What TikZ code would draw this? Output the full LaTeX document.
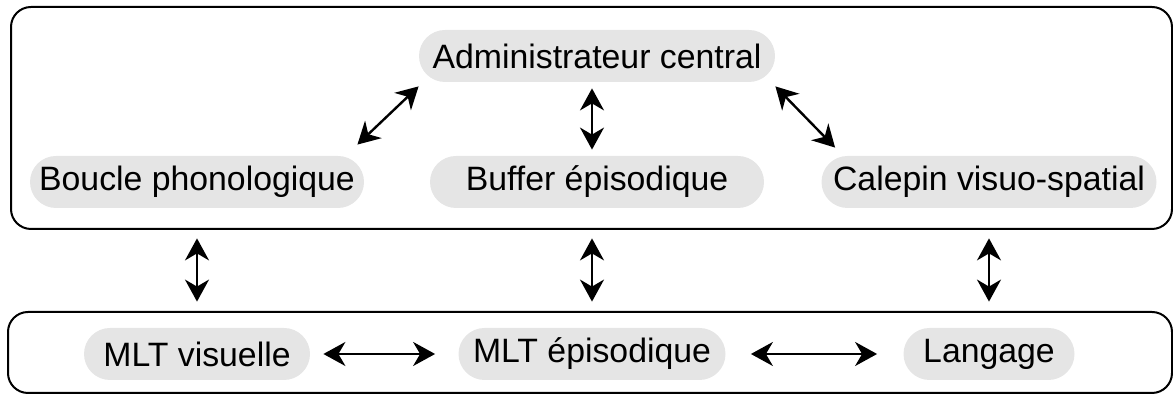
\documentclass[tikz,border=0pt]{standalone}
\usepackage{fontspec}
\setmainfont{Liberation Sans}
\usetikzlibrary{arrows.meta}
\definecolor{lightgrey}{rgb}{0.9,0.9,0.9}

\begin{document}
\begin{tikzpicture}[x=0.5pt,y=0.5pt,
	module/.style={fill=lightgrey,rounded corners=13pt,minimum height=26pt,inner xsep=0pt,
		font=\fontsize{16.9pt}{20pt}\selectfont},
	biarrow/.style={line width=1.2pt,
		{Stealth[length=11pt,width=12pt,inset=3.5pt]}-{Stealth[length=11pt,width=12pt,inset=3.5pt]}}]
	\useasboundingbox (0,0) rectangle (1173,394);

	%boxes
	\draw[line width=1pt,rounded corners=10pt] (11,387) rectangle (1172,165);
	\draw[line width=1pt,rounded corners=10pt] (8,82) rectangle (1172,1);

	%working memory
	\node[module,minimum width=178pt](admin) at (597,338) {Administrateur central};
	\node[module,minimum width=167pt](boucle) at (197,212) {Boucle phonologique};
	\node[module,minimum width=167pt](buffer) at (597,212) {Buffer épisodique};
	\node[module,minimum width=167.5pt](calepin) at (989,212) {Calepin visuo-spatial};

	%long term memory
	\node[module,minimum width=113pt](mltvis) at (197,40) {MLT visuelle};
	\node[module,minimum width=133.5pt](mltepi) at (592,40) {MLT épisodique};
	\node[module,minimum width=85.5pt](langage) at (989,40) {Langage};

	%arrows in the top box
	\draw[biarrow] ([shift={(-7,11)}]boucle.north east) -- ([shift={(0,-4)}]admin.south west);
	\draw[biarrow,shorten <=3pt,shorten >=3pt] (admin.south -| mltepi) -- (buffer.north -| mltepi);
	\draw[biarrow] ([shift={(0,-4)}]admin.south east) -- ([shift={(14,8)}]calepin.north west);

	%arrows between the boxes
	\draw[biarrow,shorten <=15pt,shorten >=13pt] (boucle) -- (mltvis);
	\draw[biarrow,shorten <=15pt,shorten >=13pt] (buffer.south -| mltepi) -- (mltepi.north);
	\draw[biarrow,shorten <=15pt,shorten >=13pt] (calepin) -- (langage);

	%arrows in the bottom box
	\draw[biarrow,shorten <=6.5pt,shorten >=11.5pt] (mltvis) -- (mltepi);
	\draw[biarrow,shorten <=12.5pt,shorten >=13pt] (mltepi) -- (langage);
\end{tikzpicture}
\end{document}
